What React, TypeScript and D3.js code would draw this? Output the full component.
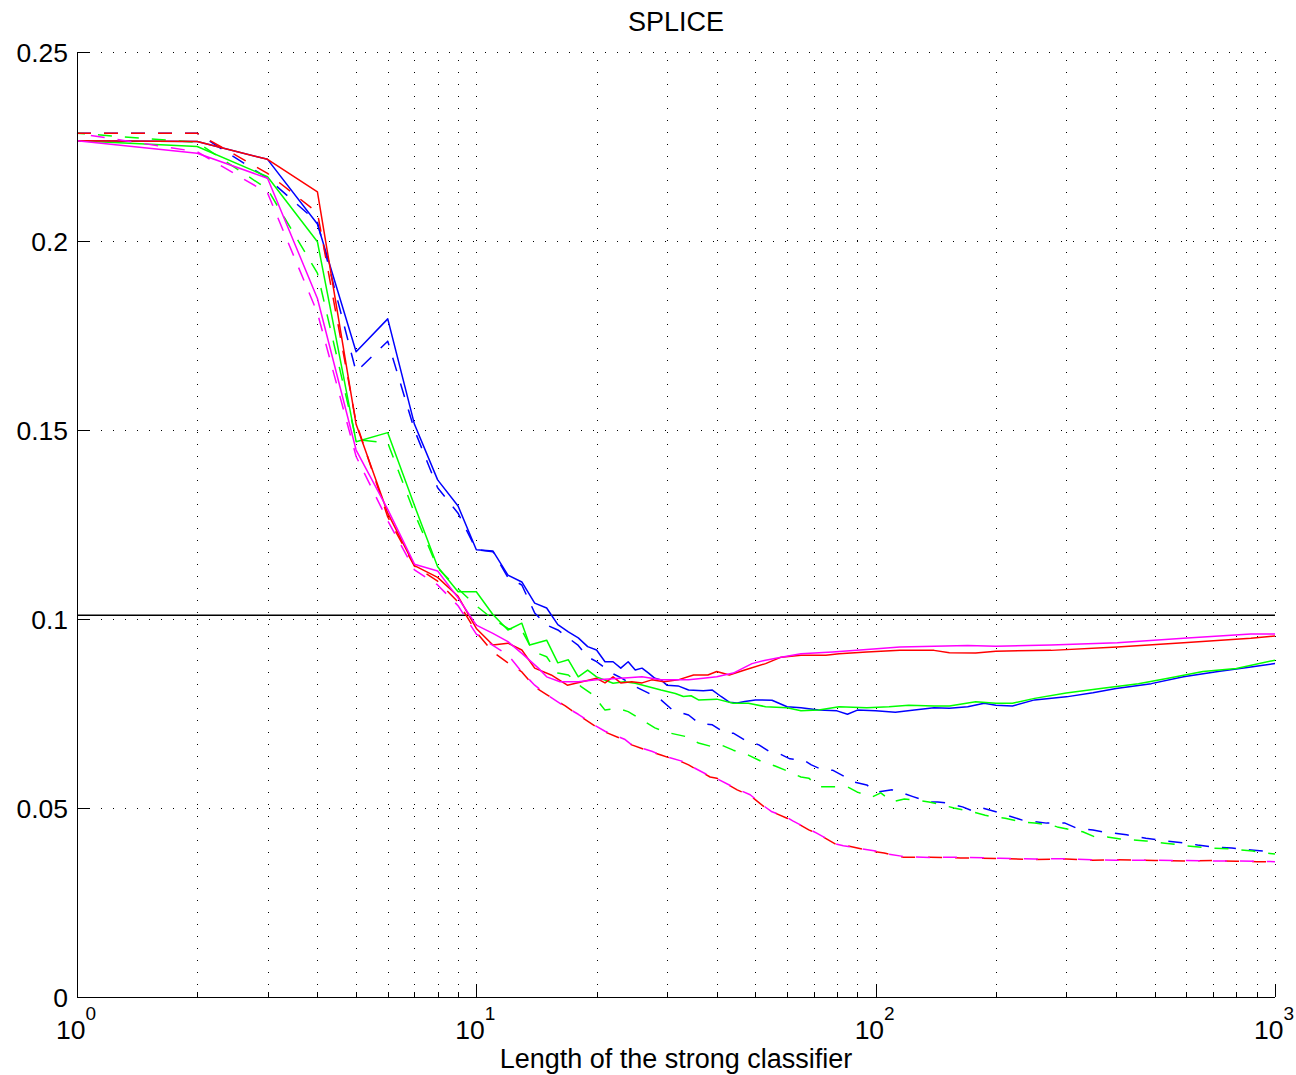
import React from "react";
import * as d3 from "d3";

const yTicks = [0, 0.05, 0.1, 0.15, 0.2, 0.25];
const yTickLabels = ["0", "0.05", "0.1", "0.15", "0.2", "0.25"];
const xMajor = [1, 10, 100, 1000];
const xExp = ["0", "1", "2", "3"];
const refLevel = 0.101;

const blueSolid: [number, number][] = [[1,0.2265],[2,0.2263],[3,0.2216],[4,0.2045],[5,0.1707],[6,0.1794],[7,0.1515],[8,0.1368],[9,0.1299],[10,0.1183],[11,0.1180],[12,0.1116],[13,0.1098],[14,0.1042],[15,0.1029],[16,0.0985],[17,0.0966],[18,0.0950],[19,0.0927],[20,0.0918],[21,0.0887],[22,0.0887],[23,0.0870],[24,0.0887],[25,0.0865],[26,0.0870],[27,0.0857],[28,0.0843],[29,0.0839],[30,0.0825],[32,0.0823],[34,0.0812],[37,0.0810],[39,0.0812],[41,0.0795],[43,0.0780],[45,0.0778],[47,0.0782],[50,0.0786],[55,0.0785],[60,0.0768],[65,0.0765],[72,0.0759],[80,0.0757],[85,0.0748],[90,0.0759],[100,0.0757],[112,0.0753],[125,0.0759],[140,0.0765],[153,0.0764],[170,0.0768],[187,0.0777],[200,0.0772],[220,0.0770],[250,0.0786],[300,0.0794],[350,0.0805],[400,0.0816],[490,0.0829],[590,0.0847],[720,0.0861],[870,0.0873],[1000,0.0882]];
const blueDashed: [number, number][] = [[1,0.2285],[2,0.2285],[3,0.2166],[4,0.2050],[5,0.1654],[6,0.1735],[7,0.1500],[8,0.1347],[9,0.1280],[10,0.1183],[11,0.1178],[12,0.1110],[13,0.1090],[14,0.1016],[15,0.0984],[16,0.0971],[17,0.0950],[18,0.0930],[19,0.0900],[20,0.0887],[22,0.0855],[23,0.0845],[25,0.0821],[27,0.0804],[29,0.0786],[31,0.0759],[34,0.0746],[36,0.0725],[39,0.0720],[42,0.0698],[44,0.0698],[47,0.0680],[51,0.0667],[54,0.0650],[57,0.0645],[61,0.0630],[66,0.0627],[69,0.0614],[74,0.0600],[78,0.0600],[84,0.0582],[88,0.0569],[95,0.0561],[100,0.0542],[110,0.0548],[115,0.0542],[124,0.0530],[136,0.0516],[143,0.0516],[151,0.0513],[165,0.0503],[175,0.0492],[185,0.0500],[200,0.0490],[233,0.0468],[268,0.0460],[298,0.0460],[318,0.0447],[350,0.0442],[370,0.0437],[425,0.0429],[475,0.0420],[530,0.0413],[600,0.0407],[640,0.0402],[700,0.0397],[780,0.0394],[870,0.0389],[1000,0.0384]];
const greenSolid: [number, number][] = [[1,0.2265],[2,0.2250],[3,0.2170],[4,0.1998],[5,0.1469],[6,0.1493],[7,0.1300],[8,0.1138],[9,0.1072],[10,0.1072],[11,0.1012],[12,0.0971],[13,0.0989],[13.6,0.0931],[15,0.0944],[16,0.0884],[17,0.0892],[18,0.0847],[19,0.0865],[20,0.0847],[22,0.0830],[23.5,0.0834],[25,0.0830],[27,0.0821],[29,0.0812],[31.5,0.0803],[33,0.0795],[34.5,0.0797],[36,0.0786],[40,0.0788],[44,0.0777],[48,0.0777],[53,0.0768],[60,0.0765],[65,0.0757],[72,0.0759],[81,0.0768],[95,0.0765],[108,0.0768],[121,0.0772],[140,0.0770],[153,0.0770],[178,0.0781],[200,0.0777],[220,0.0777],[250,0.0790],[300,0.0804],[370,0.0817],[455,0.0829],[540,0.0843],[660,0.0861],[800,0.0869],[1000,0.0891]];
const greenDashed: [number, number][] = [[1,0.2285],[2,0.2261],[3,0.2137],[4,0.1915],[5,0.1475],[6,0.1466],[7,0.1280],[8,0.1135],[9,0.1080],[10,0.1035],[11,0.1000],[12,0.0975],[13,0.0970],[13.6,0.0931],[14.2,0.0910],[15,0.0900],[16,0.0857],[17,0.0852],[18.3,0.0821],[19.6,0.0799],[21,0.0759],[22.5,0.0764],[24,0.0755],[26,0.0733],[28,0.0712],[30,0.0700],[33.5,0.0689],[36,0.0672],[39,0.0662],[41,0.0667],[44,0.0653],[48,0.0640],[52,0.0622],[56,0.0611],[61,0.0595],[65,0.0582],[68,0.0579],[72,0.0556],[78,0.0556],[85,0.0556],[90,0.0542],[98,0.0529],[103,0.0540],[110,0.0516],[118,0.0524],[127,0.0521],[136,0.0516],[147,0.0508],[157,0.0500],[165,0.0495],[175,0.0490],[188,0.0481],[198,0.0476],[211,0.0473],[232,0.0463],[250,0.0460],[275,0.0455],[285,0.0450],[310,0.0442],[330,0.0437],[355,0.0423],[380,0.0423],[410,0.0418],[475,0.0413],[530,0.0407],[600,0.0400],[690,0.0394],[770,0.0392],[880,0.0386],[1000,0.0378]];
const redSolid: [number, number][] = [[1,0.2265],[2,0.2263],[3,0.2216],[4,0.2130],[5,0.1515],[6,0.1280],[7,0.1141],[8,0.1110],[9,0.1060],[10,0.0975],[11,0.0931],[12,0.0936],[13,0.0918],[14,0.0870],[15.4,0.0852],[16.9,0.0825],[18.4,0.0834],[20,0.0843],[21,0.0831],[22,0.0847],[23,0.0831],[24.5,0.0834],[26,0.0831],[27.5,0.0839],[29.5,0.0834],[32,0.0839],[35,0.0852],[38,0.0852],[40,0.0861],[43,0.0852],[47,0.0865],[53,0.0882],[58,0.0899],[65,0.0904],[75,0.0904],[81,0.0908],[95,0.0913],[115,0.0917],[140,0.0917],[153,0.0911],[178,0.0910],[200,0.0915],[275,0.0917],[403,0.0926],[590,0.0937],[870,0.0949],[1000,0.0955]];
const redDashed: [number, number][] = [[1,0.2285],[2,0.2285],[3,0.2179],[4,0.2075],[5,0.1520],[6,0.1270],[7,0.1140],[8,0.1100],[9,0.1045],[10,0.0965],[11,0.0913],[12,0.0884],[13,0.0860],[14,0.0820],[15,0.0800],[16.7,0.0770],[18,0.0746],[20,0.0714],[21,0.0701],[23.5,0.0680],[24.5,0.0667],[27.5,0.0648],[29,0.0640],[32.7,0.0622],[34,0.0614],[38.5,0.0582],[40,0.0579],[45,0.0548],[48.5,0.0533],[53,0.0500],[55,0.0490],[60,0.0473],[62,0.0466],[68,0.0442],[71,0.0434],[80,0.0402],[83,0.0402],[100,0.0384],[105,0.0381],[117,0.0370],[137,0.0370],[163,0.0368],[205,0.0366],[250,0.0364],[300,0.0365],[350,0.0362],[400,0.0363],[500,0.0361],[600,0.0360],[700,0.0361],[800,0.0359],[900,0.0358],[1000,0.0357]];
const magentaSolid: [number, number][] = [[1,0.2265],[2,0.2232],[3,0.2166],[4,0.1848],[5,0.1447],[6,0.1290],[7,0.1145],[8,0.1127],[9,0.1056],[10,0.0984],[11,0.0962],[12,0.0940],[13,0.0909],[14.3,0.0870],[15,0.0847],[16.2,0.0834],[18,0.0834],[20,0.0839],[23,0.0843],[26,0.0847],[29,0.0839],[34,0.0839],[37,0.0843],[40,0.0847],[44,0.0857],[49,0.0882],[53,0.0891],[58,0.0899],[65,0.0908],[78,0.0913],[95,0.0919],[115,0.0926],[140,0.0928],[170,0.0930],[200,0.0928],[275,0.0931],[403,0.0937],[590,0.0949],[870,0.0960],[1000,0.0960]];
const magentaDashed: [number, number][] = [[1,0.2285],[2,0.2236],[3,0.2127],[4,0.1810],[5,0.1430],[6,0.1260],[7,0.1130],[8,0.1090],[9,0.1035],[10,0.0960],[11,0.0930],[12,0.0905],[13,0.0860],[14,0.0825],[15,0.0800],[16.7,0.0768],[18,0.0748],[20,0.0716],[21,0.0703],[23.5,0.0682],[24.5,0.0667],[27.5,0.0650],[29,0.0640],[32.7,0.0624],[34,0.0614],[38.5,0.0584],[40,0.0578],[45,0.0550],[48.5,0.0535],[53,0.0502],[55,0.0490],[60,0.0475],[62,0.0466],[68,0.0444],[71,0.0434],[80,0.0404],[83,0.0400],[100,0.0386],[105,0.0380],[117,0.0372],[137,0.0369],[163,0.0370],[205,0.0367],[250,0.0365],[300,0.0366],[350,0.0363],[400,0.0362],[500,0.0362],[600,0.0361],[700,0.0360],[800,0.0360],[900,0.0359],[1000,0.0358]];

const series = [
  { data: blueSolid, color: "#0000ff", dashed: false, offset: 0 },
  { data: blueDashed, color: "#0000ff", dashed: true, offset: 0 },
  { data: greenSolid, color: "#00ff00", dashed: false, offset: 0 },
  { data: greenDashed, color: "#00ff00", dashed: true, offset: 6 },
  { data: redSolid, color: "#ff0000", dashed: false, offset: 0 },
  { data: redDashed, color: "#ff0000", dashed: true, offset: 0 },
  { data: magentaSolid, color: "#ff00ff", dashed: false, offset: 0 },
  { data: magentaDashed, color: "#ff00ff", dashed: true, offset: 13 },
];

const W = 1296, H = 1075;
const left = 77, right = 1275, top = 52, bottom = 997;
const font = "'Liberation Sans', Arial, Helvetica, sans-serif";

export default function App() {
  const x = d3.scaleLog().domain([1, 1000]).range([left, right]);
  const y = d3.scaleLinear().domain([0, 0.25]).range([bottom, top]);
  const line = d3.line<[number, number]>().x(d => x(d[0])).y(d => y(d[1]));
  const minor: number[] = [];
  for (let k = 0; k < 3; k++) for (let m = 2; m <= 9; m++) minor.push(m * Math.pow(10, k));
  const gridX = [...minor, 10, 100, 1000];
  return (
    <svg width={W} height={H} style={{ position: "absolute", left: 0, top: 0, display: "block", background: "#fff" }} fontFamily={font}>
      <rect x={0} y={0} width={W} height={H} fill="#fff" />
      <g stroke="#000" strokeWidth={1} strokeDasharray="1 11" fill="none">
        {gridX.map((v, i) => (
          <line key={"gx" + i} x1={Math.round(x(v)) + 0.5} x2={Math.round(x(v)) + 0.5} y1={bottom} y2={top} />
        ))}
        {yTicks.filter(v => v > 0).map((v, i) => (
          <line key={"gy" + i} x1={left} x2={right} y1={Math.round(y(v)) + 0.5} y2={Math.round(y(v)) + 0.5} />
        ))}
      </g>
      <line x1={left} x2={right} y1={y(refLevel)} y2={y(refLevel)} stroke="#000" strokeWidth={1.5} />
      <g fill="none" strokeWidth={1.5} strokeLinejoin="round">
        {series.map((s, i) => (
          <path key={i} d={line(s.data) || ""} stroke={s.color} strokeDasharray={s.dashed ? "14 13" : undefined} strokeDashoffset={s.offset} />
        ))}
      </g>
      <g stroke="#000" strokeWidth={1} fill="none">
        <line x1={left + 0.5} x2={left + 0.5} y1={top} y2={bottom + 0.5} />
        <line x1={left} x2={right} y1={bottom + 0.5} y2={bottom + 0.5} />
        {yTicks.map((v, i) => (
          <line key={"ty" + i} x1={left} x2={left + 13} y1={Math.round(y(v)) + 0.5} y2={Math.round(y(v)) + 0.5} />
        ))}
        {xMajor.map((v, i) => (
          <line key={"txM" + i} x1={Math.round(x(v)) + 0.5} x2={Math.round(x(v)) + 0.5} y1={bottom} y2={bottom - 13} />
        ))}
        {minor.map((v, i) => (
          <line key={"txm" + i} x1={Math.round(x(v)) + 0.5} x2={Math.round(x(v)) + 0.5} y1={bottom} y2={bottom - 5} />
        ))}
      </g>
      <g fontSize={26.5} fill="#000" textAnchor="end">
        {yTicks.map((v, i) => (
          <text key={"ly" + i} x={left - 9} y={y(v)} dy="0.36em">{yTickLabels[i]}</text>
        ))}
      </g>
      <g fill="#000">
        {xMajor.map((v, i) => (
          <text key={"lx" + i} x={x(v) - 1} y={1039} fontSize={26.5} textAnchor="middle">
            10
            <tspan dy={-19} fontSize={19}>{xExp[i]}</tspan>
          </text>
        ))}
      </g>
      <text x={(left + right) / 2} y={1068} fontSize={27} textAnchor="middle" fill="#000">Length of the strong classifier</text>
      <text x={(left + right) / 2} y={31} fontSize={27} textAnchor="middle" fill="#000">SPLICE</text>
    </svg>
  );
}
